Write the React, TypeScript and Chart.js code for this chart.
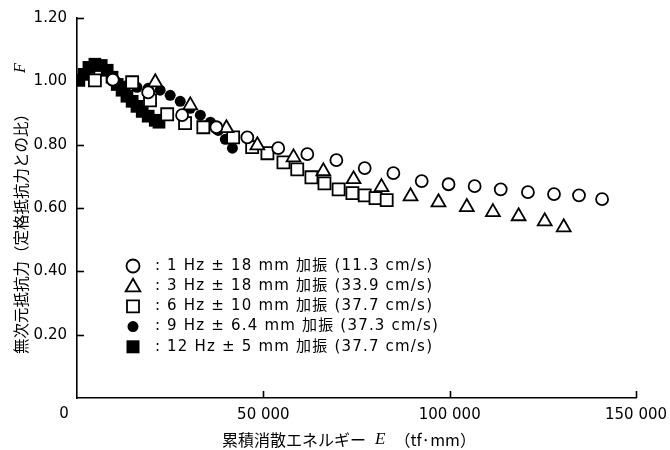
import React, { useEffect, useRef } from 'react';
import { Chart, registerables } from 'chart.js';

Chart.register(...registerables);

// ---- axis ticks ----
const xTickValues = [0, 50000, 100000, 150000];
const yTickValues = [0, 0.2, 0.4, 0.6, 0.8, 1.0, 1.2];

// ---- series: 1 Hz ±18 mm (open circles) ----
const hz1X = [9600, 19100, 28200, 37400, 45700, 54000, 61800, 69600, 77200, 84900, 92500, 99700, 106700, 113700, 121000, 128000, 134700, 140900];
const hz1F = [1.005, 0.965, 0.893, 0.855, 0.823, 0.789, 0.770, 0.751, 0.726, 0.710, 0.685, 0.675, 0.669, 0.659, 0.650, 0.644, 0.640, 0.628];

// ---- 3 Hz ±18 mm (open triangles) ----
const hz3X = [21000, 30400, 40100, 48400, 58100, 66100, 74200, 81700, 89500, 97000, 104600, 111600, 118500, 125500, 130600];
const hz3F = [0.997, 0.924, 0.852, 0.798, 0.760, 0.716, 0.691, 0.666, 0.637, 0.618, 0.603, 0.587, 0.574, 0.558, 0.539];

// ---- 6 Hz ±10 mm (open squares) ----
const hz6X = [4800, 14800, 19600, 24200, 29000, 33900, 41900, 47000, 51100, 55400, 59100, 62900, 66400, 70200, 73900, 77200, 80100, 83100];
const hz6F = [1.003, 0.997, 0.940, 0.896, 0.868, 0.855, 0.823, 0.792, 0.773, 0.744, 0.722, 0.697, 0.678, 0.659, 0.647, 0.640, 0.631, 0.625];

// ---- 9 Hz ±6.4 mm (filled circles) ----
const hz9X = [10750, 13400, 16100, 19100, 22300, 25000, 27700, 30400, 33100, 35800, 37900, 39800, 41700];
const hz9F = [0.997, 0.987, 0.981, 0.978, 0.972, 0.956, 0.937, 0.915, 0.893, 0.871, 0.845, 0.817, 0.789];

// ---- 12 Hz ±5 mm (filled squares) ----
const hz12X = [500, 1900, 3200, 4800, 6500, 8100, 9400, 10800, 12100, 13400, 14800, 16100, 17500, 19100, 21000, 22000];
const hz12F = [1.003, 1.022, 1.044, 1.054, 1.050, 1.035, 1.013, 0.990, 0.972, 0.953, 0.937, 0.921, 0.905, 0.890, 0.877, 0.871];

const legendLabels = [
  '1 Hz ± 18 mm 加振 (11.3 cm/s)',
  '3 Hz ± 18 mm 加振 (33.9 cm/s)',
  '6 Hz ± 10 mm 加振 (37.7 cm/s)',
  '9 Hz ± 6.4 mm 加振 (37.3 cm/s)',
  '12 Hz ± 5 mm 加振 (37.7 cm/s)',
];

const yTitle = '無次元抵抗力（定格抵抗力との比）';
const xTitle = '累積消散エネルギー';
const xUnit = '（tf·mm）';

const FONT = '"DejaVu Sans", "Noto Sans CJK JP", sans-serif';
const CJK = '"Noto Sans CJK JP", "DejaVu Sans", sans-serif';

function pts(xs: number[], ys: number[]) {
  return xs.map((x, i) => ({ x, y: ys[i] }));
}

function drawMarker(ctx: CanvasRenderingContext2D, kind: string, x: number, y: number) {
  ctx.save();
  ctx.lineWidth = 1.8;
  ctx.strokeStyle = '#000';
  ctx.beginPath();
  if (kind === 'circle') {
    ctx.arc(x, y, 6.5, 0, Math.PI * 2);
    ctx.fillStyle = '#fff';
    ctx.fill();
    ctx.stroke();
  } else if (kind === 'triangle') {
    const r = 8.5;
    for (let k = 0; k < 3; k++) {
      const a = (k * 2 * Math.PI) / 3;
      const px = x + Math.sin(a) * r;
      const py = y + 1 - Math.cos(a) * r;
      if (k === 0) ctx.moveTo(px, py);
      else ctx.lineTo(px, py);
    }
    ctx.closePath();
    ctx.fillStyle = '#fff';
    ctx.fill();
    ctx.stroke();
  } else if (kind === 'square') {
    ctx.rect(x - 6, y - 6, 12, 12);
    ctx.fillStyle = '#fff';
    ctx.fill();
    ctx.stroke();
  } else if (kind === 'dot') {
    ctx.arc(x, y, 5.5, 0, Math.PI * 2);
    ctx.fillStyle = '#000';
    ctx.fill();
  } else {
    ctx.rect(x - 6.5, y - 6.5, 13, 13);
    ctx.fillStyle = '#000';
    ctx.fill();
  }
  ctx.restore();
}

const decorPlugin = {
  id: 'decor',
  afterDraw(chart: any) {
    const ctx: any = chart.ctx;
    const xs = chart.scales.x;
    const ys = chart.scales.y;
    const left = chart.chartArea.left;
    const bottom = chart.chartArea.bottom;
    ctx.save();
    ctx.strokeStyle = '#000';
    ctx.lineWidth = 1.6;
    // inward ticks
    yTickValues.forEach((v) => {
      if (v === 0) return;
      const py = Math.round(ys.getPixelForValue(v)) + 0.5;
      ctx.beginPath();
      ctx.moveTo(left, py);
      ctx.lineTo(left + 7, py);
      ctx.stroke();
    });
    xTickValues.forEach((v) => {
      if (v === 0) return;
      const px = Math.round(xs.getPixelForValue(v)) + 0.5;
      ctx.beginPath();
      ctx.moveTo(px, bottom);
      ctx.lineTo(px, bottom - 7);
      ctx.stroke();
    });
    // origin label
    ctx.fillStyle = '#000';
    ctx.font = '15px ' + FONT;
    ctx.textAlign = 'center';
    ctx.textBaseline = 'middle';
    ctx.fillText('0', 64, 414);

    // y title (rotated)
    ctx.save();
    ctx.translate(21, 230);
    ctx.rotate(-Math.PI / 2);
    ctx.font = '15.5px ' + CJK;
    ctx.textAlign = 'center';
    ctx.textBaseline = 'middle';
    ctx.fillText(yTitle, 0, 0);
    ctx.restore();
    ctx.save();
    ctx.translate(21, 68);
    ctx.rotate(-Math.PI / 2);
    ctx.font = 'italic 16px "Liberation Serif", serif';
    ctx.textAlign = 'center';
    ctx.textBaseline = 'middle';
    ctx.fillText('F', 0, 0);
    ctx.restore();

    // x title
    ctx.textBaseline = 'middle';
    ctx.textAlign = 'left';
    ctx.font = '16px ' + CJK;
    const w1 = ctx.measureText(xTitle).width;
    ctx.font = 'italic 17px "Liberation Serif", serif';
    const wE = ctx.measureText('E').width;
    ctx.font = '16px ' + CJK;
    const w3 = ctx.measureText(xUnit).width;
    const gap = 9;
    const total = w1 + gap + wE + gap + w3;
    let cx = 349 - total / 2;
    const ty = 440;
    ctx.fillText(xTitle, cx, ty);
    cx += w1 + gap;
    ctx.font = 'italic 17px "Liberation Serif", serif';
    ctx.fillText('E', cx, ty);
    cx += wE + gap;
    ctx.font = '16px ' + CJK;
    ctx.fillText(xUnit, cx, ty);

    // legend
    const kinds = ['circle', 'triangle', 'square', 'dot', 'filledSquare'];
    legendLabels.forEach((label, i) => {
      const ly = 266 + i * 20.2;
      drawMarker(ctx, kinds[i], 133, ly);
      ctx.fillStyle = '#000';
      ctx.font = '15px ' + FONT;
      ctx.textAlign = 'left';
      ctx.letterSpacing = '0px';
      ctx.fillText(':', 155, ly);
      ctx.letterSpacing = '1.2px';
      ctx.fillText(label, 167, ly);
      ctx.letterSpacing = '0px';
    });
    ctx.restore();
  },
};

export default function App() {
  const ref = useRef<HTMLCanvasElement | null>(null);
  useEffect(() => {
    if (!ref.current) return;
    const chart = new Chart(ref.current, {
      type: 'scatter',
      data: {
        datasets: [
          {
            label: legendLabels[0],
            data: pts(hz1X, hz1F),
            pointStyle: 'circle',
            pointRadius: 6,
            borderColor: '#000',
            backgroundColor: '#fff',
            borderWidth: 1.8,
            order: 1,
          },
          {
            label: legendLabels[1],
            data: pts(hz3X, hz3F),
            pointStyle: 'triangle',
            pointRadius: 8,
            borderColor: '#000',
            backgroundColor: '#fff',
            borderWidth: 1.8,
            order: 2,
          },
          {
            label: legendLabels[2],
            data: pts(hz6X, hz6F),
            pointStyle: 'rect',
            pointRadius: 8.5,
            borderColor: '#000',
            backgroundColor: '#fff',
            borderWidth: 1.8,
            order: 3,
          },
          {
            label: legendLabels[3],
            data: pts(hz9X, hz9F),
            pointStyle: 'circle',
            pointRadius: 5.5,
            borderColor: '#000',
            backgroundColor: '#000',
            borderWidth: 0,
            order: 4,
          },
          {
            label: legendLabels[4],
            data: pts(hz12X, hz12F),
            pointStyle: 'rect',
            pointRadius: 9,
            borderColor: '#000',
            backgroundColor: '#000',
            borderWidth: 0,
            order: 5,
          },
        ],
      },
      options: {
        animation: false,
        responsive: false,
        layout: { padding: { top: 18, right: 34, left: 0, bottom: 0 } },
        plugins: {
          legend: { display: false },
          tooltip: { enabled: false },
        },
        scales: {
          x: {
            type: 'linear',
            min: 0,
            max: 150000,
            afterFit: (s: any) => {
              s.height = 52;
              s.paddingLeft = 0;
              s.paddingRight = 0;
            },
            afterBuildTicks: (s: any) => {
              s.ticks = xTickValues.map((v) => ({ value: v }));
            },
            grid: { display: false, drawTicks: false },
            border: { display: true, color: '#000', width: 1.6 },
            ticks: {
              padding: 8,
              color: '#000',
              font: { family: FONT, size: 15 },
              maxRotation: 0,
              callback: (v: any) => (v === 0 ? '' : String(v).replace(/\B(?=(\d{3})+(?!\d))/g, ' ')),
            },
          },
          y: {
            type: 'linear',
            min: 0,
            max: 1.2,
            afterFit: (s: any) => {
              s.width = 77;
              s.paddingTop = 0;
              s.paddingBottom = 0;
            },
            afterBuildTicks: (s: any) => {
              s.ticks = yTickValues.map((v) => ({ value: v }));
            },
            grid: { display: false, drawTicks: false },
            border: { display: true, color: '#000', width: 1.6 },
            ticks: {
              padding: 10,
              color: '#000',
              font: { family: FONT, size: 15 },
              callback: (v: any) => (v === 0 ? '' : Number(v).toFixed(2)),
            },
          },
        },
      },
      plugins: [decorPlugin],
    } as any);
    return () => chart.destroy();
  }, []);
  return (
    <div style={{ position: 'fixed', left: 0, top: 0, width: 670, height: 450, background: '#fff' }}>
      <canvas ref={ref} width={670} height={450} style={{ width: 670, height: 450, display: 'block' }} />
    </div>
  );
}
